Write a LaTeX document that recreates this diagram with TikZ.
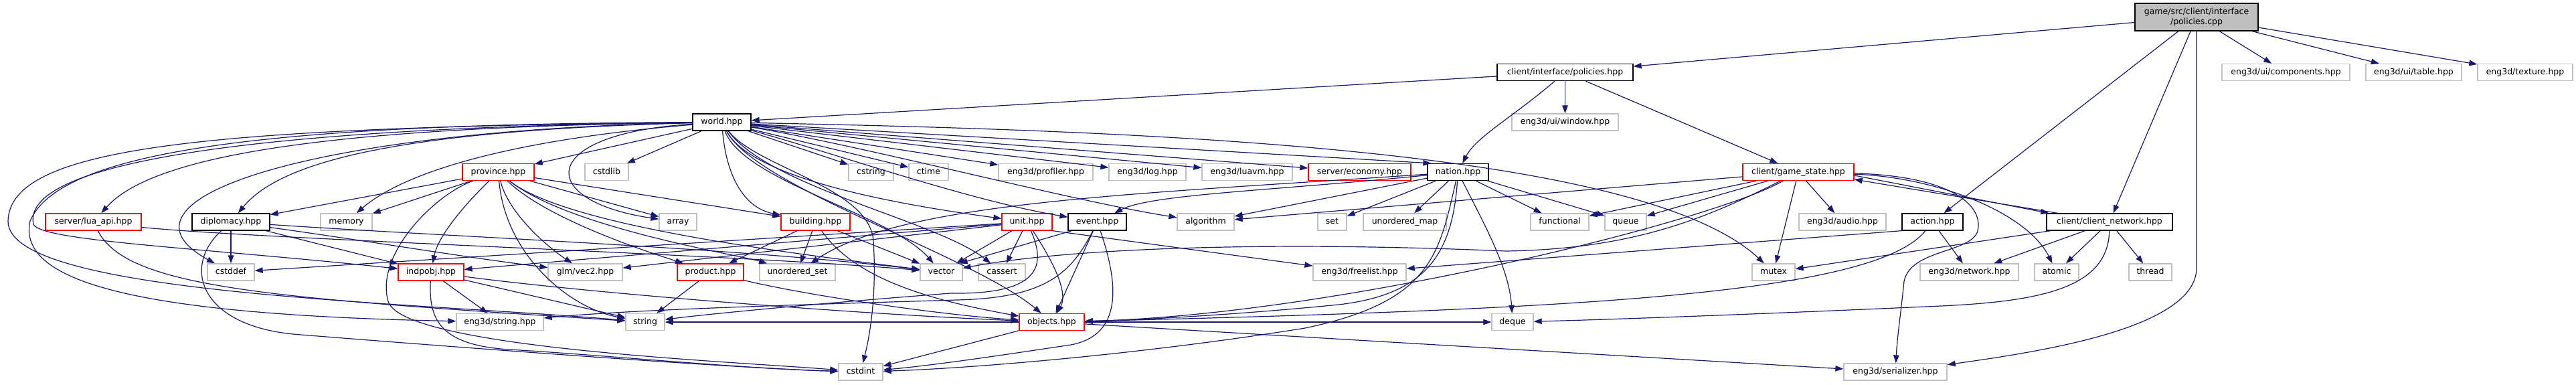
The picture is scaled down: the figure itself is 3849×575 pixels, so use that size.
\documentclass[tikz,border=0pt]{standalone}
\usepackage{fontspec}
\setmainfont{DejaVu Sans}
\usetikzlibrary{arrows.meta}
\definecolor{edgec}{HTML}{191970}
\definecolor{extc}{HTML}{BFBFBF}
\definecolor{rootc}{HTML}{BFBFBF}
\definecolor{docc}{HTML}{000000}
\definecolor{trnc}{HTML}{FF0000}
\begin{document}
\begin{tikzpicture}[x=1pt,y=-1pt,
  basen/.style={rectangle, fill=white, line width=1.3pt, minimum height=25pt, inner xsep=2pt, inner ysep=0pt, text height=9.4pt, text depth=2.9pt, font=\fontsize{12.5}{15}\selectfont},
  docn/.style={basen, draw=docc},
  extn/.style={basen, draw=extc},
  trnn/.style={basen, draw=trnc},
  rootn/.style={rectangle, fill=rootc, draw=docc, line width=1.3pt, inner sep=0pt, align=center, font=\fontsize{12.5}{15}\selectfont},
  edg/.style={draw=edgec, line width=1.2pt, -{Triangle[length=12pt,width=8.5pt]}},
]
\fill[white] (0,0) rectangle (3849,575);
\useasboundingbox (0,0) rectangle (3849,575);

% ---------- nodes ----------
\node[rootn, minimum width=184pt, minimum height=41pt] (root) at (3282,25.5) {game/src/client/interface\\/policies.cpp};

\node[docn, minimum width=203pt] (pol) at (2338.5,108) {client/interface/policies.hpp};
\node[extn, minimum width=191pt] (comp) at (3415.5,108) {eng3d/ui/components.hpp};
\node[extn, minimum width=143pt] (table) at (3606.5,108) {eng3d/ui/table.hpp};
\node[extn, minimum width=142pt] (texture) at (3773,108) {eng3d/texture.hpp};

\node[docn, minimum width=87pt] (world) at (1078.5,182.5) {world.hpp};
\node[extn, minimum width=159pt] (window) at (2338.5,182.5) {eng3d/ui/window.hpp};

\node[trnn, minimum width=107pt] (province) at (744.5,257) {province.hpp};
\node[extn, minimum width=65pt] (cstdlib) at (906.5,257) {cstdlib};
\node[extn, minimum width=67pt] (cstring) at (1301.5,257) {cstring};
\node[extn, minimum width=59pt] (ctime) at (1387.5,257) {ctime};
\node[extn, minimum width=141pt] (profiler) at (1562.5,257) {eng3d/profiler.hpp};
\node[extn, minimum width=115pt] (log) at (1714.5,257) {eng3d/log.hpp};
\node[extn, minimum width=135pt] (luavm) at (1863.5,257) {eng3d/luavm.hpp};
\node[trnn, minimum width=153pt] (economy) at (2031.5,257) {server/economy.hpp};
\node[docn, minimum width=91pt] (nation) at (2178.5,257) {nation.hpp};
\node[trnn, minimum width=166pt] (gamestate) at (2687,257) {client/game\_state.hpp};

\node[trnn, minimum width=143pt] (luaapi) at (139.5,331.5) {server/lua\_api.hpp};
\node[docn, minimum width=116pt] (diplomacy) at (345,331.5) {diplomacy.hpp};
\node[extn, minimum width=77pt] (memory) at (517.5,331.5) {memory};
\node[extn, minimum width=56pt] (array) at (1013,331.5) {array};
\node[trnn, minimum width=103pt] (building) at (1218.5,331.5) {building.hpp};
\node[trnn, minimum width=75pt] (unit) at (1534.5,331.5) {unit.hpp};
\node[docn, minimum width=87pt] (event) at (1639.5,331.5) {event.hpp};
\node[extn, minimum width=85pt] (algorithm) at (1801.5,331.5) {algorithm};
\node[extn, minimum width=43pt] (set) at (1990.5,331.5) {set};
\node[extn, minimum width=124pt] (umap) at (2099,331.5) {unordered\_map};
\node[extn, minimum width=87pt] (functional) at (2330.5,331.5) {functional};
\node[extn, minimum width=62pt] (queue) at (2429,331.5) {queue};
\node[extn, minimum width=130pt] (audio) at (2753,331.5) {eng3d/audio.hpp};
\node[docn, minimum width=91pt] (action) at (2887.5,331.5) {action.hpp};
\node[docn, minimum width=188pt] (clientnet) at (3152,331.5) {client/client\_network.hpp};

\node[extn, minimum width=70pt] (cstddef) at (345,406.5) {cstddef};
\node[trnn, minimum width=98pt] (indpobj) at (644,406.5) {indpobj.hpp};
\node[extn, minimum width=111pt] (vec2) at (874.5,406.5) {glm/vec2.hpp};
\node[trnn, minimum width=99pt] (product) at (1061.5,406.5) {product.hpp};
\node[extn, minimum width=113pt] (uset) at (1191.5,406.5) {unordered\_set};
\node[extn, minimum width=63pt] (vector) at (1406.5,406.5) {vector};
\node[extn, minimum width=70pt] (cassert) at (1497,406.5) {cassert};
\node[extn, minimum width=139pt] (freelist) at (2031.5,406.5) {eng3d/freelist.hpp};
\node[extn, minimum width=64pt] (mutex) at (2650,406.5) {mutex};
\node[extn, minimum width=147pt] (network) at (2942.5,406.5) {eng3d/network.hpp};
\node[extn, minimum width=66pt] (atomic) at (3073,406.5) {atomic};
\node[extn, minimum width=64pt] (thread) at (3213,406.5) {thread};

\node[extn, minimum width=130pt] (estring) at (747,481) {eng3d/string.hpp};
\node[extn, minimum width=58pt] (string) at (964,481) {string};
\node[trnn, minimum width=97pt] (objects) at (1571.5,481) {objects.hpp};
\node[extn, minimum width=62pt] (deque) at (2260,481) {deque};

\node[extn, minimum width=66pt] (cstdint) at (1286,555.5) {cstdint};
\node[extn, minimum width=154pt] (serializer) at (2832,555.5) {eng3d/serializer.hpp};

% ---------- edges: root ----------
\draw[edg] (root) -- (pol);
\draw[edg] (root) -- (action);
\draw[edg] (root) -- (clientnet);
\draw[edg] (root) -- (comp);
\draw[edg] (root) -- (table);
\draw[edg] (root) -- (texture);
\draw[edg] (root.south) -- (3282,400) .. controls (3282,490) and (3050,525) .. (serializer);

% ---------- policies.hpp ----------
\draw[edg] (pol) -- (world);
\draw[edg] (pol) -- (window);
\draw[edg] (pol) .. controls (2260,175) and (2205,205) .. (nation);
\draw[edg] (pol) -- (gamestate);

% ---------- world.hpp ----------
\draw[edg] (world) -- (province);
\draw[edg] (world) -- (cstdlib);
\draw[edg] (world) -- (cstring);
\draw[edg] (world) -- (ctime);
\draw[edg] (world) -- (profiler);
\draw[edg] (world) -- (log);
\draw[edg] (world) -- (luavm);
\draw[edg] (world) -- (economy);
\draw[edg] (world) -- ([xshift=6pt]nation.north west);
\draw[edg] (world) .. controls (1700,195) and (2450,220) .. (mutex);
\draw[edg] (world) .. controls (500,190) and (230,230) .. (luaapi);
\draw[edg] (world) .. controls (600,195) and (420,240) .. (diplomacy);
\draw[edg] (world) .. controls (750,210) and (600,260) .. (memory);
\draw[edg] (world) .. controls (450,195) and (150,300) .. (cstddef);
\draw[edg] (world) .. controls (400,190) and (30,240) .. (50,335) .. controls (60,360) and (300,370) .. (indpobj);
\draw[edg] (world) .. controls (300,190) and (15,220) .. (12,330) .. controls (10,440) and (600,450) .. (string);
\draw[edg] (world) .. controls (400,185) and (90,225) .. (45,330) .. controls (25,420) and (200,470) .. (estring);
\draw[edg] (world) .. controls (800,200) and (800,300) .. (array);
\draw[edg] (world) .. controls (1085,260) and (1110,310) .. (building);
\draw[edg] (world) .. controls (1120,260) and (1300,300) .. (unit);
\draw[edg] (world) .. controls (1250,230) and (1450,300) .. (event);
\draw[edg] (world) .. controls (1300,220) and (1600,300) .. (algorithm);
\draw[edg] (world) .. controls (1110,270) and (1330,320) .. (vector);
\draw[edg] (world) .. controls (1150,280) and (1400,330) .. (cassert);
\draw[edg] (world) .. controls (1130,280) and (1450,380) .. (objects);
\draw[edg] (world) .. controls (1130,250) and (1300,280) .. (1305,360) .. controls (1310,440) and (1300,500) .. (cstdint);

% ---------- province.hpp ----------
\draw[edg] (province) -- (memory);
\draw[edg] (province) -- (diplomacy);
\draw[edg] (province) .. controls (700,300) and (655,350) .. (indpobj);
\draw[edg] (province) .. controls (760,320) and (820,370) .. (vec2);
\draw[edg] (province) .. controls (755,380) and (850,460) .. (string);
\draw[edg] (province) -- (array);
\draw[edg] (province) -- (building);
\draw[edg] (province) .. controls (820,330) and (980,380) .. (product);
\draw[edg] (province) .. controls (850,340) and (1100,380) .. (uset);
\draw[edg] (province) .. controls (850,340) and (1200,380) .. (vector);
\draw[edg] (province) .. controls (650,290) and (560,380) .. (580,450) .. controls (600,520) and (1100,540) .. (cstdint);

% ---------- diplomacy.hpp ----------
\draw[edg] (diplomacy) -- (cstddef);
\draw[edg] (diplomacy) -- (indpobj);
\draw[edg] (diplomacy) .. controls (270,400) and (300,490) .. (450,500) .. controls (700,520) and (1100,550) .. (cstdint);
\draw[edg] (diplomacy) .. controls (550,360) and (700,385) .. (vec2);
\draw[edg] (diplomacy) .. controls (700,355) and (1100,370) .. (vector);

% ---------- server/lua_api.hpp ----------
\draw[edg] ([yshift=-8pt]luaapi.east) .. controls (400,358) and (1100,380) .. (vector);
\draw[edg] (luaapi) .. controls (190,430) and (400,445) .. (string);

% ---------- indpobj.hpp ----------
\draw[edg] (indpobj) -- (estring);
\draw[edg] (indpobj) -- (string);
\draw[edg] (indpobj) .. controls (900,440) and (1300,470) .. (objects);
\draw[edg] (indpobj) .. controls (640,480) and (660,515) .. (760,522) .. controls (900,530) and (1100,550) .. (cstdint);

% ---------- product.hpp ----------
\draw[edg] (product) -- (string);
\draw[edg] (product) .. controls (1200,440) and (1400,470) .. (objects);

% ---------- building.hpp ----------
\draw[edg] (building) -- (product);
\draw[edg] (building) -- (uset);
\draw[edg] (building) -- (vector);
\draw[edg] (building) .. controls (1280,420) and (1400,450) .. (objects);

% ---------- unit.hpp ----------
\draw[edg] (unit) -- (vector);
\draw[edg] (unit) -- (cassert);
\draw[edg] (unit) .. controls (1580,400) and (1595,440) .. (objects);
\draw[edg] (unit.south east) -- (freelist);
\draw[edg] (unit) -- (indpobj);
\draw[edg] (unit) -- (cstddef);
\draw[edg] (unit) -- (vec2);
\draw[edg] (unit) .. controls (1565,400) and (1550,440) .. (1420,438) .. controls (1200,455) and (1050,470) .. (string);

% ---------- event.hpp ----------
\draw[edg] ([xshift=6pt]event.south west) -- ([xshift=-5pt]vector.north east);
\draw[edg] (event) -- (objects);
\draw[edg] (event) .. controls (1670,420) and (1680,500) .. (1600,515) .. controls (1500,530) and (1400,545) .. (cstdint);
\draw[edg] (event) .. controls (1600,410) and (1560,445) .. (1430,448) .. controls (1200,455) and (950,462) .. (estring);

% ---------- nation.hpp ----------
\draw[edg] (nation) -- (set);
\draw[edg] (nation) -- (umap);
\draw[edg] (nation) -- (functional);
\draw[edg] (nation) -- (queue);
\draw[edg] (nation) .. controls (2215,330) and (2255,400) .. (deque);
\draw[edg] (nation) .. controls (2170,380) and (2130,440) .. (2000,455) .. controls (1850,470) and (1700,478) .. (objects);
\draw[edg] (nation) .. controls (2150,380) and (2140,450) .. (1950,490) .. controls (1700,530) and (1450,550) .. (cstdint);
\draw[edg] (nation) -- (algorithm);
\draw[edg] (nation) .. controls (1900,285) and (1720,290) .. (event);
\draw[edg] (nation) .. controls (1700,290) and (1350,300) .. (uset);

% ---------- client/game_state.hpp ----------
\draw[edg] (gamestate) -- (functional);
\draw[edg] (gamestate) -- (queue);
\draw[edg] (gamestate) -- (audio);
\draw[edg] (gamestate) -- (mutex);
\draw[edg] (gamestate) -- (algorithm);
\draw[edg] (gamestate) .. controls (2900,265) and (3030,320) .. (atomic);
\draw[edg] ([yshift=-5pt]gamestate.east) -- ([xshift=4pt]clientnet.north west);
\draw[edg] ([xshift=17pt]clientnet.north west) -- ([yshift=-11pt]gamestate.east);
\draw[edg] (gamestate) .. controls (2900,262) and (2965,300) .. (2955,345) .. controls (2945,378) and (2855,372) .. (2845,420) .. controls (2840,470) and (2835,500) .. (serializer);
\draw[edg] (gamestate) .. controls (2560,330) and (2000,470) .. (objects);
\draw[edg] (gamestate) .. controls (2560,320) and (2450,372) .. (2250,375) .. controls (1900,360) and (1600,370) .. (vector);

% ---------- client/client_network.hpp ----------
\draw[edg] (clientnet) -- (mutex);
\draw[edg] (clientnet) -- (network);
\draw[edg] (clientnet) -- (atomic);
\draw[edg] (clientnet) -- (thread);
\draw[edg] (clientnet) .. controls (3150,430) and (3050,450) .. (2900,457) .. controls (2700,466) and (2450,476) .. (deque);

% ---------- action.hpp ----------
\draw[edg] (action) -- (network);
\draw[edg] (action.south west) -- (freelist);
\draw[edg] (action) .. controls (2800,440) and (2350,462) .. (objects);

% ---------- objects.hpp ----------
\draw[edg] (objects) -- (cstdint);
\draw[edg] (objects) -- (serializer);
\draw[edg] (objects) -- (string);
\draw[edg] (objects) -- (deque);
\end{tikzpicture}
\end{document}
